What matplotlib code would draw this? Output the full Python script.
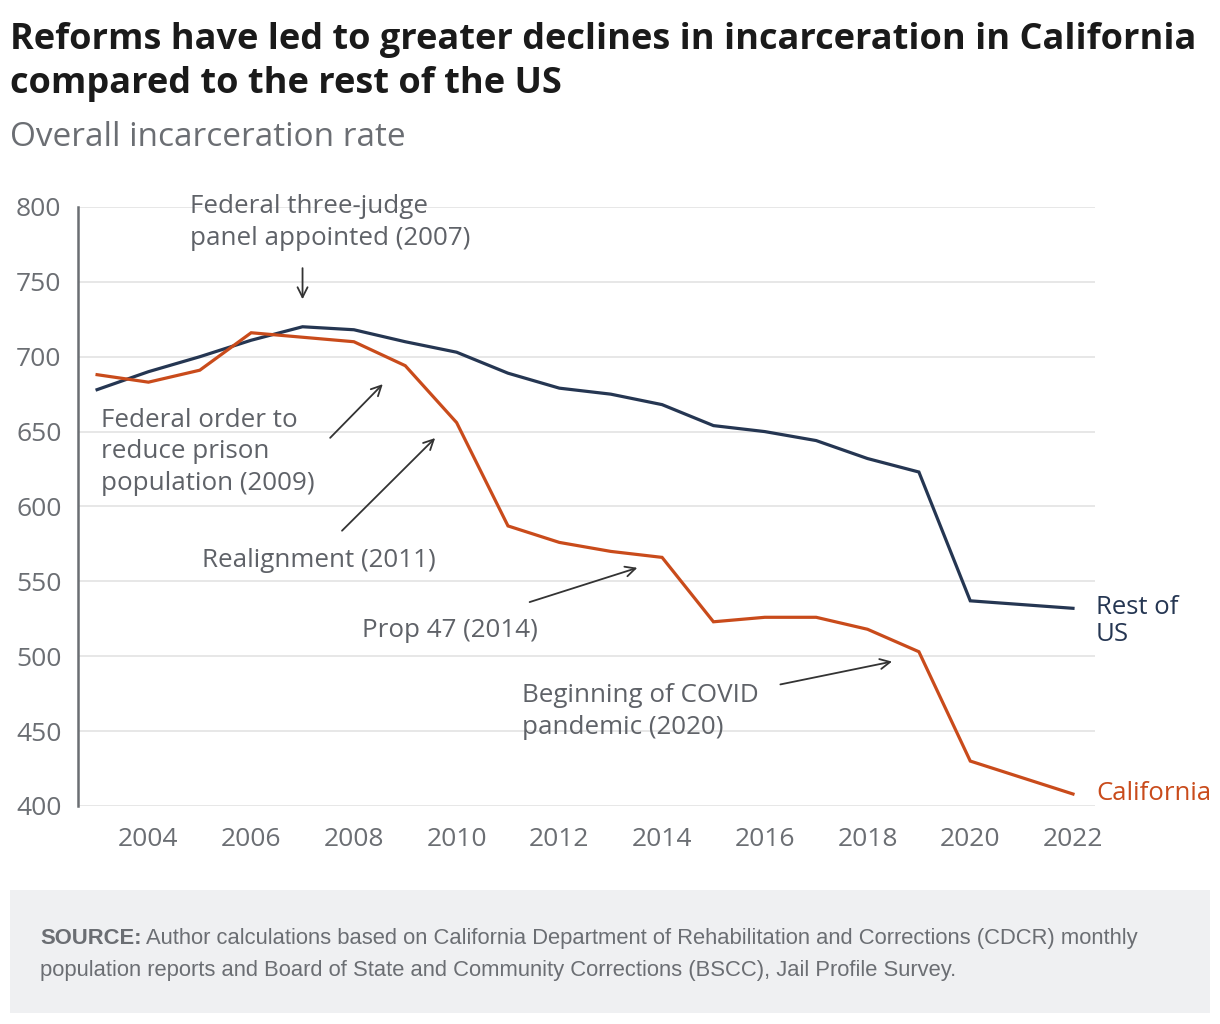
import matplotlib.pyplot as plt
from matplotlib.patches import Rectangle

plt.rcParams['font.family'] = ['Open Sans', 'DejaVu Sans']

years = list(range(2003, 2023))
rest_of_us = [678, 690, 700, 711, 720, 718, 710, 703, 689, 679, 675, 668,
              654, 650, 644, 632, 623, 537, 534.5, 532]
california = [688, 683, 691, 716, 713, 710, 694, 656, 587, 576, 570, 566,
              523, 526, 526, 518, 503, 430, 419, 408]

y_ticks = [400, 450, 500, 550, 600, 650, 700, 750, 800]
x_ticks = list(range(2004, 2023, 2))

NAVY = '#253652'
ORANGE = '#c94b1b'
GRAY_TXT = '#5f6268'
ARROW = '#333333'

fig = plt.figure(figsize=(12.2, 10.24), dpi=100)
ax = fig.add_axes([0.064, 0.2129, 0.8336, 0.585])

ax.plot(years, rest_of_us, color=NAVY, lw=2.3, solid_joinstyle='miter', zorder=3)
ax.plot(years, california, color=ORANGE, lw=2.3, solid_joinstyle='miter', zorder=3)

ax.set_xlim(2002.63, 2022.43)
ax.set_ylim(400, 800)
ax.set_yticks(y_ticks)
ax.set_xticks(x_ticks)
ax.grid(axis='y', color='#e3e3e3', lw=1.2)
ax.set_axisbelow(True)
for s in ['top', 'right', 'bottom']:
    ax.spines[s].set_visible(False)
ax.spines['left'].set_color('#6b6e73')
ax.spines['left'].set_linewidth(1.8)
ax.tick_params(axis='both', length=0, labelsize=19, labelcolor='#6b6e73')
ax.tick_params(axis='x', pad=15)
ax.tick_params(axis='y', pad=12)

# end labels
ax.text(2022.45, 523.5, 'Rest of\nUS', color=NAVY, fontsize=18.5, va='center', ha='left',
        linespacing=1.15, clip_on=False)
ax.text(2022.45, 408.5, 'California', color=ORANGE, fontsize=18.5, va='center', ha='left',
        clip_on=False)

# annotations
fs_ann = 18.7
arrow_kw = dict(arrowstyle='->', color=ARROW, lw=1.3, mutation_scale=18)
ax.annotate('', xy=(2007, 736.5), xytext=(2007, 761), arrowprops=arrow_kw)
ax.text(2004.8, 808.5, 'Federal three-judge\npanel appointed (2007)', fontsize=fs_ann,
        color=GRAY_TXT, va='top', ha='left', linespacing=1.36)

ax.annotate('', xy=(2008.6, 683), xytext=(2007.5, 644.5), arrowprops=arrow_kw)
ax.text(2003.08, 666, 'Federal order to\nreduce prison\npopulation (2009)', fontsize=fs_ann,
        color=GRAY_TXT, va='top', ha='left', linespacing=1.36)

ax.annotate('', xy=(2009.62, 647), xytext=(2007.73, 582.5), arrowprops=arrow_kw)
ax.text(2005.05, 564, 'Realignment (2011)', fontsize=fs_ann, color=GRAY_TXT,
        va='center', ha='left')

ax.annotate('', xy=(2013.57, 559.6), xytext=(2011.37, 535.6), arrowprops=arrow_kw)
ax.text(2008.15, 517, 'Prop 47 (2014)', fontsize=fs_ann, color=GRAY_TXT,
        va='center', ha='left')

ax.annotate('', xy=(2018.53, 496.8), xytext=(2016.25, 480.8), arrowprops=arrow_kw)
ax.text(2011.27, 482, 'Beginning of COVID\npandemic (2020)', fontsize=fs_ann, color=GRAY_TXT,
        va='top', ha='left', linespacing=1.36)

# title and subtitle
fig.text(0.0082, 0.979, 'Reforms have led to greater declines in incarceration in California\n'
         'compared to the rest of the US', fontsize=26, fontweight='bold', color='#1a1a1a',
         va='top', ha='left', linespacing=1.3)
fig.text(0.0082, 0.882, 'Overall incarceration rate', fontsize=24, color='#6b6e73',
         va='top', ha='left')

# source box
fig.patches.append(Rectangle((10 / 1220, 1 - 1013 / 1024), 1200 / 1220, 123 / 1024,
                             transform=fig.transFigure, facecolor='#eff0f2', edgecolor='none',
                             zorder=0))
src_font = dict(fontsize=15.8, color='#6b6e73', family=['Liberation Sans'], va='baseline', ha='left')
src = fig.text(40 / 1220, 1 - 944 / 1024, 'SOURCE:', fontweight='bold', **src_font)
fig.canvas.draw()
bb = src.get_window_extent()
fig.text((bb.x1 + 4) / fig.bbox.width, 1 - 944 / 1024,
         'Author calculations based on California Department of Rehabilitation and Corrections (CDCR) monthly',
         **src_font)
fig.text(40 / 1220, 1 - 976 / 1024,
         'population reports and Board of State and Community Corrections (BSCC), Jail Profile Survey.',
         **src_font)

fig.savefig('out.png', dpi=100)
